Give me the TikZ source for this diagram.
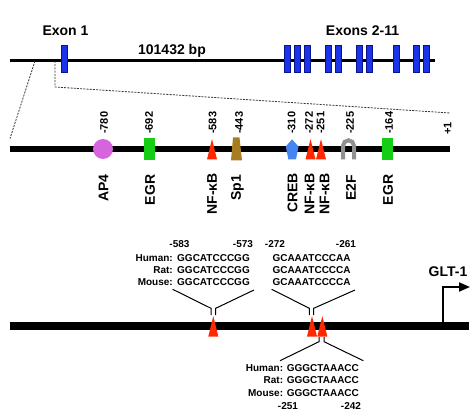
\documentclass[tikz,border=0pt]{standalone}
\usepackage{fontspec}
\setmainfont{Liberation Sans}
\usetikzlibrary{arrows.meta}
\definecolor{exonblue}{RGB}{26,50,232}
\definecolor{exonborder}{RGB}{10,20,140}
\definecolor{apcol}{RGB}{214,100,222}
\definecolor{egrcol}{RGB}{20,205,20}
\definecolor{redcol}{RGB}{255,40,0}
\definecolor{spcol}{RGB}{168,124,32}
\definecolor{crebcol}{RGB}{70,132,242}
\definecolor{efcol}{RGB}{145,145,145}
\begin{document}
\begin{tikzpicture}[x=1pt,y=-1pt,
  exonbox/.style={draw=exonborder, fill=exonblue, line width=0.6pt, minimum width=6pt, minimum height=27pt, inner sep=0pt},
  biglbl/.style={font=\fontsize{14}{16}\selectfont\bfseries, inner sep=0pt},
  numlbl/.style={font=\fontsize{11}{13}\selectfont\bfseries, inner sep=0pt, rotate=90, anchor=west},
  tflbl/.style={font=\fontsize{14}{16}\selectfont\bfseries, inner sep=0pt, rotate=90, anchor=east},
  seqlbl/.style={font=\fontsize{10}{12}\selectfont\bfseries, inner sep=0pt},
  dashline/.style={line width=0.8pt, black!80, dash pattern=on 2pt off 1.2pt},
  callout/.style={line width=1pt, black},
  egrbox/.style={fill=egrcol, minimum width=11pt, minimum height=22pt, inner sep=0pt}
]
\useasboundingbox (0,0) rectangle (474,414);

% ---------- top: gene ----------
\coordinate (tl) at (9.5,61);
\coordinate (tr) at (435,61);
\draw[line width=3pt] (tl) -- (tr);

\coordinate (dl1) at (35,61);
\coordinate (dl2) at (10,138.5);
\coordinate (dr1) at (55,61);
\coordinate (dr2) at (55,87);
\coordinate (dr3) at (450,113);
\draw[dashline] (dl1) -- (dl2);
\draw[dashline] (dr1) -- (dr2) -- (dr3);

\node[exonbox] (e1) at (64,58.5) {};
\foreach \x [count=\i from 2] in {287,297,307.5,328.5,338.5,359.5,369.5,396,416,426.5}
  \node[exonbox] (e\i) at (\x,58.5) {};

\node[biglbl] (ex1lbl) at (65.5,31) {Exon 1};
\node[biglbl] (bplbl) at (172,51) {101432 bp};
\node[biglbl] (exlbl) at (362.5,31) {Exons 2-11};

% ---------- middle: promoter ----------
\coordinate (ml) at (9.5,149);
\coordinate (mr) at (450,149);
\draw[line width=6.5pt] (ml) -- (mr);

\node[circle, fill=apcol, minimum size=20pt, inner sep=0pt] (ap4) at (103,149) {};
\node[egrbox] (egr1) at (149.5,149) {};
\fill[redcol] (212,139) -- (217,159.5) -- (207,159.5) -- cycle;
\fill[spcol] (233,137.5) -- (239.5,137.5) -- (242,160.5) -- (231,160.5) -- cycle;
\fill[crebcol] (292,139.3) -- (298.5,146.5) -- (296,159.3) -- (288.3,159.3) -- (285.8,146.5) -- cycle;
\fill[redcol] (310.5,139) -- (315.5,159.5) -- (305.5,159.5) -- cycle;
\fill[redcol] (321,139) -- (326,159.5) -- (316,159.5) -- cycle;
\draw[efcol, line width=4pt] (343,159.3) -- (343,145.8) arc (180:360:5.5) -- (354,159.3);
\node[egrbox] (egr2) at (387.5,149) {};

\node[numlbl] (p780) at (104,134) {-780};
\node[numlbl] (p692) at (149,134) {-692};
\node[numlbl] (p583) at (212.5,134) {-583};
\node[numlbl] (p443) at (239,134) {-443};
\node[numlbl] (p310) at (291.5,134) {-310};
\node[numlbl] (p272) at (309,134) {-272};
\node[numlbl] (p251) at (320.5,134) {-251};
\node[numlbl] (p225) at (350,134) {-225};
\node[numlbl] (p164) at (389,134) {-164};
\node[numlbl] (p1) at (447.5,135) {+1};

\node[tflbl] (tfap4) at (103.5,174.5) {AP4};
\node[tflbl] (tfegr1) at (150,174.5) {EGR};
\node[tflbl] (tfnf1) at (212,173) {NF-κB};
\node[tflbl] (tfsp1) at (237.5,174.5) {Sp1};
\node[tflbl] (tfcreb) at (292.5,173) {CREB};
\node[tflbl] (tfnf2) at (309.5,173) {NF-κB};
\node[tflbl] (tfnf3) at (324.5,173) {NF-κB};
\node[tflbl] (tfe2f) at (351,174.5) {E2F};
\node[tflbl] (tfegr2) at (388,174.5) {EGR};

% ---------- bottom: conserved sites ----------
\coordinate (bl) at (10,326);
\coordinate (br) at (469,326);
\draw[line width=8pt] (bl) -- (br);

\fill[redcol] (213.3,316) -- (218.3,336.5) -- (208.3,336.5) -- cycle;
\fill[redcol] (312,316) -- (317,336.5) -- (307,336.5) -- cycle;
\fill[redcol] (322.3,316) -- (327.3,336.5) -- (317.3,336.5) -- cycle;

% GLT-1 start arrow
\coordinate (gs) at (443,323);
\coordinate (gc) at (443,287);
\coordinate (ge) at (470,287);
\draw[line width=2pt, -{Triangle[length=11pt,width=9pt]}] (gs) -- (gc) -- (ge);
\node[biglbl] (glt) at (448,272) {GLT-1};

% callout -583
\coordinate (a1) at (172.7,289.3); \coordinate (a2) at (211,308.3); \coordinate (a3) at (211,315);
\coordinate (a4) at (254,290); \coordinate (a5) at (215.7,308.3); \coordinate (a6) at (215.7,315);
\draw[callout] (a1) -- (a2) -- (a3);
\draw[callout] (a4) -- (a5) -- (a6);
% callout -272
\coordinate (b1) at (271.7,289.3); \coordinate (b2) at (309.3,308.3); \coordinate (b3) at (309.3,315);
\coordinate (b4) at (355,290); \coordinate (b5) at (313.7,308.3); \coordinate (b6) at (313.7,315);
\draw[callout] (b1) -- (b2) -- (b3);
\draw[callout] (b4) -- (b5) -- (b6);
% callout -251
\coordinate (c1) at (280,360.7); \coordinate (c2) at (319,341.7); \coordinate (c3) at (319,337);
\coordinate (c4) at (363.3,360.7); \coordinate (c5) at (324,341.7); \coordinate (c6) at (324,337);
\draw[callout] (c1) -- (c2) -- (c3);
\draw[callout] (c4) -- (c5) -- (c6);

% texts -583
\node[seqlbl] (s583) at (179.5,244) {-583};
\node[seqlbl] (s573) at (243,244) {-573};
\node[seqlbl, anchor=east] (sp1h) at (173,258.3) {Human:};
\node[seqlbl, anchor=east] (sp1r) at (173,270.5) {Rat:};
\node[seqlbl, anchor=east] (sp1m) at (173,282.5) {Mouse:};
\node[seqlbl, anchor=west] (sq1h) at (177,258.3) {GGCATCCCGG};
\node[seqlbl, anchor=west] (sq1r) at (177,270.5) {GGCATCCCGG};
\node[seqlbl, anchor=west] (sq1m) at (177,282.5) {GGCATCCCGG};
% texts -272
\node[seqlbl] (s272) at (275,244) {-272};
\node[seqlbl] (s261) at (346,244) {-261};
\node[seqlbl, anchor=west] (sq2h) at (272.3,258.3) {GCAAATCCCAA};
\node[seqlbl, anchor=west] (sq2r) at (272.3,270.5) {GCAAATCCCCA};
\node[seqlbl, anchor=west] (sq2m) at (272.3,282.5) {GCAAATCCCCA};
% texts -251
\node[seqlbl, anchor=east] (sp3h) at (283.3,367.7) {Human:};
\node[seqlbl, anchor=east] (sp3r) at (283.3,380) {Rat:};
\node[seqlbl, anchor=east] (sp3m) at (283.3,392.7) {Mouse:};
\node[seqlbl, anchor=west] (sq3h) at (286.7,367.7) {GGGCTAAACC};
\node[seqlbl, anchor=west] (sq3r) at (286.7,380) {GGGCTAAACC};
\node[seqlbl, anchor=west] (sq3m) at (286.7,392.7) {GGGCTAAACC};
\node[seqlbl] (s251) at (288,405.7) {-251};
\node[seqlbl] (s242) at (351,405.7) {-242};
\end{tikzpicture}
\end{document}
